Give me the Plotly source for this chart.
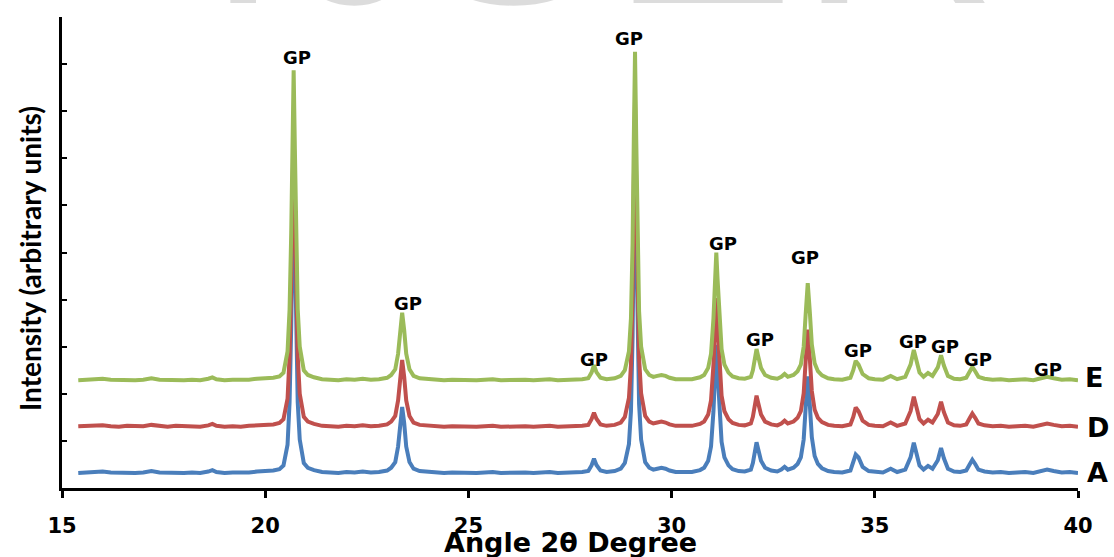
import plotly.graph_objects as go

# ---------------- data ----------------
angle = [
    15.4, 15.6, 15.8, 16.0, 16.2, 16.4, 16.6, 16.8, 17.0, 17.2, 17.4, 17.6, 17.8, 18.0, 18.2, 18.4, 18.6, 18.7, 18.8, 19.0, 19.2, 19.4, 19.6, 19.8, 20.0, 20.2, 20.35,
    20.45, 20.55, 20.6, 20.64, 20.67, 20.7, 20.73, 20.76, 20.8, 20.85, 20.95, 21.05,
    21.2, 21.4, 21.6, 21.8, 22.0, 22.2, 22.4, 22.6, 22.8, 23.0,
    23.1, 23.2, 23.27, 23.32, 23.37, 23.42, 23.47, 23.55, 23.65,
    23.8, 24.0, 24.2, 24.4, 24.6, 24.8, 25.0, 25.2, 25.4, 25.6, 25.8, 26.0, 26.2, 26.4, 26.6, 26.8, 27.0, 27.2, 27.4, 27.6, 27.8, 27.95,
    28.03, 28.09, 28.15, 28.25,
    28.4, 28.6, 28.75,
    28.85, 28.95, 29.0, 29.04, 29.07, 29.1, 29.13, 29.16, 29.2, 29.25, 29.35, 29.45,
    29.55, 29.65, 29.75, 29.85, 29.95, 30.1, 30.3, 30.5, 30.7,
    30.8, 30.9, 30.97, 31.03, 31.07, 31.1, 31.13, 31.17, 31.23, 31.3, 31.4, 31.5,
    31.65, 31.8, 31.95,
    32.0, 32.05, 32.09, 32.13, 32.2, 32.3,
    32.45, 32.6, 32.7, 32.78, 32.86, 33.0,
    33.1, 33.18, 33.25, 33.3, 33.35, 33.4, 33.45, 33.52, 33.6, 33.7,
    33.85, 34.0, 34.2, 34.4,
    34.47, 34.53, 34.6, 34.7,
    34.85, 35.0, 35.2, 35.39, 35.55, 35.75,
    35.88, 35.96, 36.03, 36.1, 36.2, 36.31, 36.42,
    36.55, 36.63, 36.7, 36.8,
    36.95, 37.1, 37.25,
    37.34, 37.4, 37.47, 37.55,
    37.7, 37.9, 38.1, 38.3, 38.5, 38.7, 38.9, 39.05, 39.24, 39.4, 39.6, 39.8, 40.0,
]

intensity_E = [
    229, 230, 229, 232, 230, 229, 230, 229, 230, 233, 230, 229, 230, 229, 230, 229, 232, 235, 231, 229, 230, 229, 230, 232, 233, 234, 237,
    245, 290, 380, 540, 720, 887, 720, 540, 380, 300, 250, 240,
    235, 231, 230, 229, 231, 230, 232, 230, 231, 234,
    240, 252, 285, 335, 372, 335, 285, 252, 238,
    233, 231, 230, 229, 230, 229, 230, 229, 230, 231, 229, 230, 229, 230, 229, 230, 231, 229, 230, 229, 231, 233,
    245, 261, 246, 234,
    231, 233, 238,
    250, 290, 360, 520, 740, 926, 740, 530, 375, 300, 252, 240,
    236, 238, 240, 238, 234, 231, 230, 231, 235,
    240, 255, 285, 360, 440, 500, 445, 370, 295, 262, 245, 237,
    233, 232, 236,
    250, 275, 295, 280, 255, 240,
    234, 232, 236, 242, 236, 240,
    248, 262, 300, 370, 435, 375, 305, 265, 248, 239,
    233, 231, 230, 234,
    250, 270, 262, 242,
    233, 231, 230, 238, 231, 236,
    262, 293, 270, 245, 236, 244, 238,
    256, 282, 260, 238,
    232, 231, 234,
    248, 257, 248, 236,
    232, 230, 231, 229, 230, 231, 229, 232, 236, 233, 230, 231, 229,
]

intensity_D = [
    131, 132, 131, 133, 131, 130, 132, 131, 131, 134, 131, 130, 132, 131, 131, 130, 133, 136, 132, 130, 131, 130, 132, 133, 134, 135, 138,
    146, 190, 280, 440, 610, 770, 610, 440, 280, 200, 151, 141,
    136, 132, 131, 130, 132, 131, 133, 131, 132, 135,
    141, 153, 186, 236, 272, 236, 186, 153, 139,
    134, 132, 131, 130, 131, 130, 131, 130, 131, 132, 130, 131, 130, 131, 130, 131, 132, 130, 131, 130, 132, 134,
    146, 160, 147, 135,
    132, 134, 139,
    151, 191, 261, 420, 640, 825, 640, 430, 276, 201, 153, 141,
    137, 139, 141, 139, 135, 132, 131, 132, 136,
    141, 156, 186, 262, 342, 403, 347, 272, 196, 163, 146, 138,
    134, 133, 137,
    151, 176, 196, 181, 156, 141,
    135, 133, 137, 143, 137, 141,
    149, 163, 201, 271, 336, 276, 206, 166, 149, 140,
    134, 132, 131, 135,
    151, 171, 163, 143,
    134, 132, 131, 139, 132, 137,
    163, 194, 171, 146, 137, 145, 139,
    157, 183, 161, 139,
    133, 132, 135,
    149, 158, 149, 137,
    133, 131, 132, 130, 131, 132, 130, 133, 137, 134, 131, 132, 130,
]

intensity_A = [
    32, 33, 32, 35, 33, 32, 33, 32, 33, 36, 33, 32, 33, 32, 33, 32, 35, 38, 34, 32, 33, 32, 33, 35, 36, 37, 40,
    48, 92, 182, 342, 520, 680, 520, 342, 182, 103, 53, 43,
    38, 34, 33, 32, 34, 33, 35, 33, 34, 37,
    43, 55, 88, 138, 172, 138, 88, 55, 41,
    36, 34, 33, 32, 33, 32, 33, 32, 33, 34, 32, 33, 32, 33, 32, 33, 34, 32, 33, 32, 34, 36,
    48, 62, 49, 37,
    34, 36, 41,
    53, 93, 163, 322, 540, 725, 540, 332, 178, 103, 55, 43,
    39, 41, 43, 41, 37, 34, 33, 34, 38,
    43, 58, 88, 163, 243, 304, 248, 173, 98, 65, 48, 40,
    36, 35, 39,
    53, 78, 97, 83, 58, 43,
    37, 35, 39, 45, 39, 43,
    51, 65, 103, 172, 237, 178, 108, 68, 51, 42,
    36, 34, 33, 37,
    53, 71, 65, 45,
    36, 34, 33, 41, 34, 39,
    65, 96, 73, 48, 39, 47, 41,
    59, 85, 63, 41,
    35, 34, 37,
    51, 60, 51, 39,
    35, 33, 34, 32, 33, 34, 32, 35, 39, 36, 33, 34, 32,
]

series_names = ["A", "D", "E"]
series_values = [intensity_A, intensity_D, intensity_E]
series_colors = ["#4A7EBB", "#C0504D", "#9BBB59"]

peak_label = "GP"
x_ticks = [15, 20, 25, 30, 35, 40]

for s in series_values:
    assert len(s) == len(angle), (len(s), len(angle))

# ---------------- layout geometry ----------------
W, H = 1114, 557
ML, MR, MT, MB = 62, 36, 17, 69
PW, PH = W - ML - MR, H - MT - MB
X0, X1, Y0, Y1 = 15, 40, 0, 1000


def px_x(px):
    return X0 + (px - ML) / PW * (X1 - X0)


def px_y(py):
    return Y0 + (H - MB - py) / PH * (Y1 - Y0)


def paper_x(px):
    return (px - ML) / PW


def paper_y(py):
    return (H - MB - py) / PH


fig = go.Figure()
for name, vals, col in zip(series_names, series_values, series_colors):
    fig.add_trace(go.Scatter(x=angle, y=vals, mode="lines", name=name,
                             line=dict(color=col, width=4), showlegend=False,
                             hoverinfo="skip"))

annotations = []

# watermark letters (light grey, mostly above the page)
wm_letters = ["I", "J", "S", "E", "R"]
wm_centers = [243, 362, 512, 702, 898]
for ch, cx in zip(wm_letters, wm_centers):
    annotations.append(dict(text=ch, xref="paper", yref="paper", x=paper_x(cx), y=paper_y(63),
                            xanchor="center", yanchor="bottom", showarrow=False,
                            font=dict(family="Liberation Sans, Arial, sans-serif", size=275, color="#DCDCDC")))

# GP peak labels (pixel centres measured on the reference)
gp_px = [(297, 57), (408, 303), (594, 359), (629, 38), (723, 243), (760, 339),
         (805, 257), (858, 350), (913, 341), (945, 346), (978, 359), (1048, 369)]
for (gx, gy) in gp_px:
    annotations.append(dict(text="<b>%s</b>" % peak_label, xref="x", yref="y", x=px_x(gx), y=px_y(gy),
                            xanchor="center", yanchor="middle", showarrow=False,
                            font=dict(family="DejaVu Sans, sans-serif", size=18, color="black")))

# series labels at the right end
lab_px = {"E": (1083, 377), "D": (1085, 427), "A": (1085, 472)}
for name in ["E", "D", "A"]:
    lx, ly = lab_px[name]
    annotations.append(dict(text="<b>%s</b>" % name, xref="paper", yref="paper", x=paper_x(lx), y=paper_y(ly),
                            xanchor="left", yanchor="middle", showarrow=False,
                            font=dict(family="DejaVu Sans, sans-serif", size=27, color="black")))

# axis titles
annotations.append(dict(text="<b>Angle 2θ Degree</b>", xref="paper", yref="paper", x=paper_x(570), y=paper_y(542),
                        xanchor="center", yanchor="middle", showarrow=False,
                        font=dict(family="DejaVu Sans, sans-serif", size=27, color="black")))
annotations.append(dict(text="<b>Intensity (arbitrary units)</b>", xref="paper", yref="paper",
                        x=paper_x(30), y=paper_y(259), textangle=-90,
                        xanchor="center", yanchor="middle", showarrow=False,
                        font=dict(family="Lato, sans-serif", size=28, color="black")))

fig.update_layout(
    width=W, height=H,
    margin=dict(l=ML, r=MR, t=MT, b=MB, pad=0),
    paper_bgcolor="white", plot_bgcolor="white",
    annotations=annotations,
    xaxis=dict(range=[X0, X1], tickvals=x_ticks, ticktext=[str(v) for v in x_ticks],
               showgrid=False, zeroline=False, showline=True, linecolor="black", linewidth=3,
               ticks="outside", ticklen=7, tickwidth=2.5, tickcolor="black",
               ticklabelstandoff=10,
               tickfont=dict(family="DejaVu Sans, sans-serif", size=21, color="black", weight="bold")),
    yaxis=dict(range=[Y0, Y1], dtick=100, tick0=0, showticklabels=False,
               showgrid=False, zeroline=False, showline=True, linecolor="black", linewidth=3,
               ticks="inside", ticklen=5, tickwidth=2, tickcolor="black"),
)

fig.write_html("out.html")
